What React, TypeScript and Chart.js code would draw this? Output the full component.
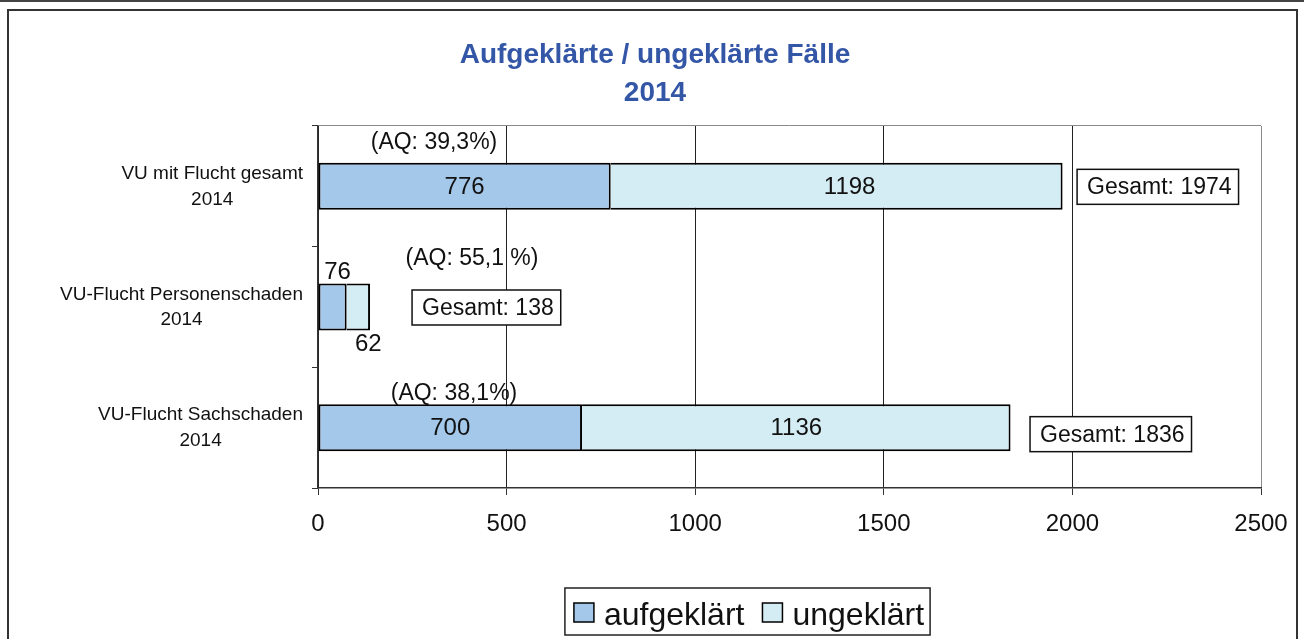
import { useEffect, useRef } from 'react';
import { Chart, registerables } from 'chart.js';

Chart.register(...registerables);

// ---------- data ----------
const categories: string[][] = [
  ['VU mit Flucht gesamt', '2014'],
  ['VU-Flucht Personenschaden', '2014'],
  ['VU-Flucht Sachschaden', '2014'],
];
const seriesNames = ['aufgeklärt', 'ungeklärt'];
const aufgeklaert = [776, 76, 700];
const ungeklaert = [1198, 62, 1136];
const gesamt = [1974, 138, 1836];
const aqLabels = ['(AQ: 39,3%)', '(AQ: 55,1 %)', '(AQ: 38,1%)'];
const xTicks = [0, 500, 1000, 1500, 2000, 2500];
const titleLines = ['Aufgeklärte / ungeklärte Fälle', '2014'];

// ---------- styles / label placement ----------
const FONT = "'Liberation Sans', Arial, Helvetica, sans-serif";
const COLORS = ['#a4c8ea', '#d4ecf3'];
const TEXT = '#111';
const aqOffset = [
  { dx: 116, dy: -20 },
  { dx: 154, dy: -25 },
  { dx: 136, dy: -10 },
];
const totalOffset = [
  { dx: 14.5, dy: 0.5 },
  { dx: 42, dy: 0.5 },
  { dx: 19.5, dy: 6.5 },
];
const secondLabelShift = [13, 0, 0];
const outsideValueLabels = [false, true, false];

const overlayPlugin = {
  id: 'overlay',
  beforeDraw(chart: any) {
    const ctx = chart.ctx;
    ctx.save();
    ctx.fillStyle = '#444';
    ctx.fillRect(0, 0, chart.width, 2);
    ctx.strokeStyle = '#333';
    ctx.lineWidth = 2;
    ctx.strokeRect(8, 10, 1289, 700);
    ctx.restore();
  },
  afterDatasetsDraw(chart: any) {
    const ctx = chart.ctx;
    const m0 = chart.getDatasetMeta(0);
    const m1 = chart.getDatasetMeta(1);
    const area = chart.chartArea;
    ctx.save();
    for (let i = 0; i < categories.length; i++) {
      const a = m0.data[i].getProps(['x', 'y', 'base', 'height'], true);
      const b = m1.data[i].getProps(['x', 'y', 'base', 'height'], true);
      const top = a.y - a.height / 2;
      const bottom = a.y + a.height / 2;

      // value labels
      ctx.fillStyle = TEXT;
      ctx.font = `24px ${FONT}`;
      ctx.textAlign = 'center';
      ctx.textBaseline = 'middle';
      if (outsideValueLabels[i]) {
        ctx.fillText(String(aufgeklaert[i]), (a.base + a.x) / 2 + 5, top - 11.5);
        ctx.fillText(String(ungeklaert[i]), (b.base + b.x) / 2 + 10, bottom + 14);
      } else {
        ctx.fillText(String(aufgeklaert[i]), (a.base + a.x) / 2, a.y + 1);
        ctx.fillText(String(ungeklaert[i]), (b.base + b.x) / 2 + secondLabelShift[i], b.y + 1);
      }

      // AQ labels
      ctx.font = `23px ${FONT}`;
      ctx.fillText(aqLabels[i], area.left + aqOffset[i].dx, top + aqOffset[i].dy);

      // Gesamt boxes
      const txt = `Gesamt: ${gesamt[i]}`;
      ctx.font = `23px ${FONT}`;
      const tw = ctx.measureText(txt).width;
      const w = tw + 17;
      const h = 35;
      const left = b.x + totalOffset[i].dx;
      const cy = a.y + totalOffset[i].dy;
      ctx.fillStyle = '#fff';
      ctx.fillRect(left, cy - h / 2, w, h);
      ctx.strokeStyle = '#111';
      ctx.lineWidth = 1.5;
      ctx.strokeRect(left, cy - h / 2, w, h);
      ctx.fillStyle = TEXT;
      ctx.textAlign = 'left';
      ctx.fillText(txt, left + 10, cy + 1);
    }
    ctx.restore();
  },
  afterDraw(chart: any) {
    const ctx = chart.ctx;
    const yScale = chart.scales.y;
    ctx.save();
    // category labels: block right-aligned, lines centred within block
    ctx.font = `19px ${FONT}`;
    ctx.fillStyle = TEXT;
    ctx.textAlign = 'center';
    ctx.textBaseline = 'middle';
    const rightEdge = yScale.right - 15;
    for (let i = 0; i < categories.length; i++) {
      const y = yScale.getPixelForValue(i);
      const lines = categories[i];
      const bw = Math.max(...lines.map((l) => ctx.measureText(l).width));
      const cx = rightEdge - bw / 2;
      ctx.fillText(lines[0], cx, y - 12.5);
      ctx.fillText(lines[1], cx, y + 13);
    }

    // legend
    const ds = chart.data.datasets;
    ctx.font = `32px ${FONT}`;
    const sw = 20, sh = 19, gap = 10, itemGap = 18, padL = 9, padR = 6;
    const widths = ds.map((d: any) => ctx.measureText(d.label).width);
    let total = padL + padR;
    widths.forEach((w: number, k: number) => {
      total += sw + gap + w + (k > 0 ? itemGap : 0);
    });
    const centerX = 747.5;
    const boxLeft = centerX - total / 2;
    const boxTop = 588, boxBottom = 635;
    ctx.fillStyle = '#fff';
    ctx.fillRect(boxLeft, boxTop, total, boxBottom - boxTop);
    ctx.strokeStyle = '#222';
    ctx.lineWidth = 1.5;
    ctx.strokeRect(boxLeft, boxTop, total, boxBottom - boxTop);
    let x = boxLeft + padL;
    ctx.textAlign = 'left';
    ctx.textBaseline = 'alphabetic';
    ds.forEach((d: any, k: number) => {
      if (k > 0) x += itemGap;
      ctx.fillStyle = d.backgroundColor;
      ctx.fillRect(x, 603, sw, sh);
      ctx.strokeStyle = '#000';
      ctx.lineWidth = 1.5;
      ctx.strokeRect(x, 603, sw, sh);
      x += sw + gap;
      ctx.fillStyle = TEXT;
      ctx.fillText(d.label, x, 625);
      x += widths[k];
    });
    ctx.restore();
  },
};

export default function App() {
  const ref = useRef<HTMLCanvasElement>(null);
  useEffect(() => {
    const chart = new Chart(ref.current as HTMLCanvasElement, {
      type: 'bar',
      data: {
        labels: categories as any,
        datasets: [
          {
            label: seriesNames[0],
            data: aufgeklaert,
            backgroundColor: COLORS[0],
            borderColor: '#000',
            borderWidth: 2,
            borderSkipped: false,
          },
          {
            label: seriesNames[1],
            data: ungeklaert,
            backgroundColor: COLORS[1],
            borderColor: '#000',
            borderWidth: 2,
            borderSkipped: 'start',
          },
        ],
      },
      options: {
        indexAxis: 'y',
        responsive: false,
        animation: false,
        datasets: { bar: { barPercentage: 0.39, categoryPercentage: 1 } } as any,
        layout: { padding: { left: 49, right: 43, top: 0, bottom: 0 } },
        plugins: {
          legend: { display: false },
          tooltip: { enabled: false },
          title: {
            display: true,
            text: titleLines,
            color: '#3456a6',
            font: { family: FONT, size: 28, weight: 'bold', lineHeight: '38px' } as any,
            padding: { top: 36, bottom: 14 },
          },
        },
        scales: {
          x: {
            stacked: true,
            min: 0,
            max: 2500,
            afterFit: (s: any) => {
              s.height = 151;
            },
            afterBuildTicks: (s: any) => {
              s.ticks = xTicks.map((v) => ({ value: v }));
            },
            ticks: {
              font: { family: FONT, size: 24 },
              color: TEXT,
              padding: 15,
              maxRotation: 0,
              callback: (v: any) => String(v),
            },
            grid: {
              color: (c: any) => (c.tick && c.tick.value === 2500 ? '#8a8a8a' : '#222'),
              tickColor: '#333',
              tickLength: 7,
              lineWidth: 1,
            },
            border: { color: '#333', width: 1.5 },
          },
          y: {
            stacked: true,
            afterFit: (s: any) => {
              s.width = 269;
            },
            ticks: { display: false },
            grid: {
              offset: true,
              color: (c: any) => (c.index === 0 ? '#8a8a8a' : 'rgba(0,0,0,0)'),
              tickColor: '#333',
              tickLength: 6,
            },
            border: { color: '#333', width: 1.5 },
          },
        },
      },
      plugins: [overlayPlugin],
    });
    return () => chart.destroy();
  }, []);
  return (
    <div style={{ position: 'fixed', left: 0, top: 0, width: 1304, height: 639, background: '#fff' }}>
      <canvas ref={ref} width={1304} height={639} style={{ display: 'block', width: 1304, height: 639 }} />
    </div>
  );
}
